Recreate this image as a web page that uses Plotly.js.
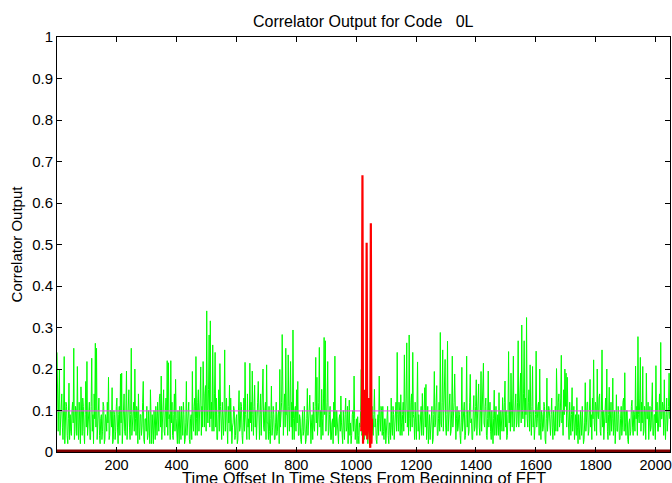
<!DOCTYPE html>
<html>
<head>
<meta charset="utf-8">
<script src="https://cdn.plot.ly/plotly-3.0.1.min.js"></script>
<style>html,body{margin:0;padding:0;background:#fff;}#chart{width:672px;height:483px;}</style>
</head>
<body>
<div id="chart"></div>
<script>
// Correlator output outside the code window (sampled every 2 time steps, starting at step 1)
const greenStart = 1, greenStep = 2;
const greenCorr = [
.24,.09,.05,.13,.20,.04,.08,.11,.14,.06,.03,.10,.23,.02,.06,.12,.11,.04,.02,.08,.166,.03,.09,.05,.04,.10,.12,.07,.25,.03,.05,.11,
.10,.04,.206,.07,.03,.12,.08,.02,.157,.09,.04,.13,.11,.05,.02,.09,.17,.06,.218,.04,.06,.10,.12,.03,.03,.11,.226,.05,.09,.02,.14,.08,
.262,.06,.25,.03,.07,.11,.13,.04,.02,.08,.09,.03,.05,.12,.11,.02,.03,.09,.08,.05,.12,.07,.18,.03,.04,.10,.10,.06,.155,.02,.03,.10,
.09,.03,.05,.11,.13,.06,.02,.09,.11,.04,.188,.07,.19,.02,.06,.12,.14,.05,.04,.10,.195,.03,.08,.13,.15,.06,.03,.09,.25,.04,.07,.12,
.12,.05,.20,.08,.04,.11,.10,.02,.14,.06,.03,.09,.09,.04,.06,.12,.17,.03,.02,.08,.08,.05,.11,.03,.04,.10,.07,.02,.15,.06,.02,.09,
.06,.02,.10,.05,.03,.11,.08,.04,.12,.07,.05,.13,.14,.06,.183,.03,.07,.12,.15,.05,.04,.10,.13,.06,.22,.04,.215,.08,.09,.03,.22,.07,
.12,.04,.03,.09,.14,.05,.175,.08,.05,.02,.10,.06,.02,.11,.08,.03,.11,.05,.04,.12,.09,.02,.03,.07,.17,.04,.06,.10,.12,.03,.02,.08,
.09,.03,.194,.07,.05,.11,.13,.04,.23,.08,.04,.12,.15,.05,.08,.13,.205,.04,.11,.06,.218,.09,.06,.14,.16,.05,.34,.10,.07,.15,.282,.06,
.316,.08,.12,.05,.258,.10,.05,.14,.24,.06,.13,.03,.03,.09,.15,.05,.213,.11,.08,.03,.12,.07,.04,.10,.246,.05,.09,.13,.06,.02,.11,.07,
.161,.05,.13,.08,.02,.06,.07,.11,.10,.03,.04,.08,.09,.02,.03,.10,.148,.05,.06,.12,.11,.04,.02,.07,.13,.05,.216,.09,.05,.03,.14,.06,
.08,.03,.214,.07,.12,.05,.195,.09,.04,.11,.161,.06,.10,.03,.06,.12,.17,.05,.03,.09,.14,.04,.08,.13,.20,.06,.05,.10,.12,.03,.21,.07,
.07,.03,.11,.05,.02,.08,.159,.04,.06,.11,.09,.03,.03,.07,.12,.04,.05,.09,.10,.02,.199,.06,.08,.12,.283,.05,.04,.10,.14,.06,.25,.09,
.09,.04,.234,.11,.05,.13,.218,.06,.12,.03,.294,.08,.03,.10,.11,.05,.15,.07,.17,.04,.04,.09,.08,.03,.02,.06,.10,.04,.05,.11,.07,.02,
.03,.08,.153,.04,.06,.10,.137,.05,.02,.07,.09,.03,.12,.06,.05,.11,.228,.07,.18,.04,.07,.12,.252,.06,.10,.03,.151,.08,.04,.13,.276,.09,
.268,.05,.09,.12,.218,.04,.05,.09,.11,.03,.03,.07,.08,.02,.12,.06,.231,.04,.04,.10,.07,.03,.02,.08,.09,.05,.135,.07,.05,.02,.10,.06,
.03,.09,.13,.05,.06,.11,.02,.07,.125,.04,.07,.02,.04,.09,.10,.05,.183,.08,.03,.06,.08,.02,.085,.04,.02,.07,.06,.10,.199,.04,.05,.08,
.08,.03,.04,.09,.10,.05,.06,.02,.09,.06,.03,.08,.07,.04,.11,.05,.04,.09,.151,.06,.08,.03,.02,.07,.09,.04,.183,.08,.05,.11,.10,.04,
.11,.05,.03,.08,.08,.02,.05,.10,.11,.04,.02,.07,.07,.03,.13,.06,.04,.11,.09,.03,.06,.10,.12,.05,.24,.09,.05,.12,.10,.04,.138,.07,
.04,.09,.12,.05,.234,.10,.07,.13,.263,.06,.10,.04,.282,.08,.05,.12,.14,.06,.24,.09,.08,.03,.12,.07,.03,.10,.217,.05,.09,.03,.06,.11,
.11,.04,.141,.07,.04,.10,.155,.06,.163,.03,.06,.11,.02,.05,.09,.03,.05,.08,.11,.02,.03,.09,.194,.06,.07,.12,.16,.04,.04,.08,.12,.05,
.288,.07,.06,.12,.246,.05,.10,.14,.223,.06,.04,.09,.267,.05,.09,.13,.14,.04,.05,.10,.231,.06,.08,.12,.188,.04,.03,.08,.11,.05,.06,.10,
.09,.04,.02,.07,.204,.05,.07,.11,.12,.03,.04,.09,.231,.06,.10,.04,.05,.12,.187,.07,.08,.03,.03,.10,.136,.05,.06,.11,.174,.04,.09,.13,
.164,.06,.04,.10,.194,.05,.11,.14,.214,.07,.06,.11,.13,.04,.03,.08,.195,.06,.08,.12,.05,.03,.10,.06,.02,.08,.149,.04,.07,.11,.04,.09,
.09,.04,.143,.06,.03,.10,.08,.05,.131,.07,.05,.12,.171,.06,.10,.03,.04,.09,.242,.07,.12,.05,.19,.10,.06,.13,.231,.05,.09,.12,.14,.06,
.07,.12,.268,.06,.11,.15,.19,.07,.306,.10,.08,.14,.268,.06,.13,.09,.324,.08,.06,.12,.15,.05,.21,.09,.04,.11,.206,.06,.10,.03,.05,.09,
.243,.06,.08,.11,.12,.04,.20,.07,.03,.10,.09,.05,.06,.12,.11,.03,.02,.08,.178,.05,.07,.11,.10,.04,.04,.09,.13,.06,.03,.10,.08,.04,
.11,.05,.201,.08,.05,.12,.14,.06,.08,.13,.233,.07,.10,.04,.15,.09,.20,.11,.19,.06,.18,.10,.06,.03,.12,.07,.04,.09,.155,.05,.07,.11,
.03,.07,.09,.04,.131,.06,.02,.09,.06,.03,.10,.05,.04,.11,.08,.02,.03,.07,.167,.05,.07,.12,.12,.04,.05,.10,.175,.06,.09,.03,.13,.08,
.222,.07,.05,.12,.11,.04,.20,.09,.08,.13,.14,.05,.04,.10,.246,.06,.10,.03,.06,.11,.13,.07,.20,.05,.03,.09,.156,.04,.09,.12,.05,.08,
.178,.04,.07,.10,.02,.06,.138,.05,.05,.11,.09,.03,.03,.08,.11,.04,.06,.12,.13,.05,.191,.07,.04,.10,.10,.03,.02,.07,.08,.04,.05,.11,
.125,.06,.04,.10,.09,.05,.207,.08,.11,.04,.278,.09,.07,.13,.228,.05,.12,.07,.206,.04,.05,.11,.10,.03,.19,.08,.08,.12,.03,.07,.11,.05,
.06,.11,.167,.04,.04,.09,.09,.03,.208,.07,.12,.05,.05,.10,.14,.06,.264,.08,.08,.12,.11,.04,.174,.07,.03,.09,.13,.05,.07,.11,.19,.08
];

// Correlator output inside the code window (every 2 time steps, starting at step 1017)
const redStart = 1017, redStep = 2;
const redCorr = [.05,.10,.667,.02,.12,.06,.15,.04,.08,.504,.03,.10,.07,.13,.05,.01,.551,.02,.08];

// Mean level and zero reference
const levelX = [1, 2048];
const meanLevel = [0.099, 0.099];
const zeroLevel = [0, 0];

// Axis ticks
const xTicks = [200, 400, 600, 800, 1000, 1200, 1400, 1600, 1800, 2000];
const yTicks = [0, 0.1, 0.2, 0.3, 0.4, 0.5, 0.6, 0.7, 0.8, 0.9, 1];

const font = 'Liberation Sans, Arial, Helvetica, sans-serif';

const traces = [
  {type: 'scatter', mode: 'lines', x0: greenStart, dx: greenStep, y: greenCorr,
   line: {color: '#00ff00', width: 1}, hoverinfo: 'skip'},
  {type: 'scatter', mode: 'lines', x: levelX, y: meanLevel,
   line: {color: '#ff33ff', width: 1}, hoverinfo: 'skip'},
  {type: 'scatter', mode: 'lines', x0: redStart, dx: redStep, y: redCorr,
   line: {color: '#ff0000', width: 2.2}, hoverinfo: 'skip'},
  {type: 'scatter', mode: 'lines', x: levelX, y: zeroLevel,
   line: {color: '#800000', width: 5}, hoverinfo: 'skip'}
];

const layout = {
  width: 672, height: 483,
  margin: {l: 57, r: 2, t: 37, b: 31, pad: 0},
  paper_bgcolor: '#ffffff', plot_bgcolor: '#ffffff',
  showlegend: false,
  font: {family: font, size: 14, color: '#000'},
  title: {text: 'Correlator Output for Code\u00a0\u00a0\u00a00L', font: {family: font, size: 16, color: '#000'},
          x: 0.5405, xanchor: 'center', xref: 'container', y: 1 - 21/483, yref: 'container', yanchor: 'middle'},
  xaxis: {
    range: [1, 2048], tickvals: xTicks, ticktext: xTicks.map(String),
    ticks: 'inside', ticklen: 5, tickwidth: 1, tickcolor: '#000',
    showline: true, linecolor: '#000', linewidth: 1, mirror: 'ticks',
    showgrid: false, zeroline: false, ticklabeloverflow: 'allow',
    tickfont: {family: font, size: 14.5, color: '#000'}
  },
  yaxis: {
    range: [0, 1], tickvals: yTicks, ticktext: yTicks.map(String),
    ticks: 'inside', ticklen: 5, tickwidth: 1, tickcolor: '#000',
    showline: true, linecolor: '#000', linewidth: 1, mirror: 'ticks',
    showgrid: false, zeroline: false,
    tickfont: {family: font, size: 15, color: '#000'},
    title: {text: 'Correlator Output', font: {family: font, size: 15, color: '#000'}, standoff: 5}
  },
  annotations: [{
    text: 'Time Offset In Time Steps From Beginning of FFT',
    xref: 'paper', yref: 'paper', x: 0.5, y: 0, xanchor: 'center', yanchor: 'middle',
    yshift: -25.5, showarrow: false,
    font: {family: font, size: 16.5, color: '#000'}
  }]
};

Plotly.newPlot('chart', traces, layout, {staticPlot: true, displayModeBar: false});
</script>
</body>
</html>
